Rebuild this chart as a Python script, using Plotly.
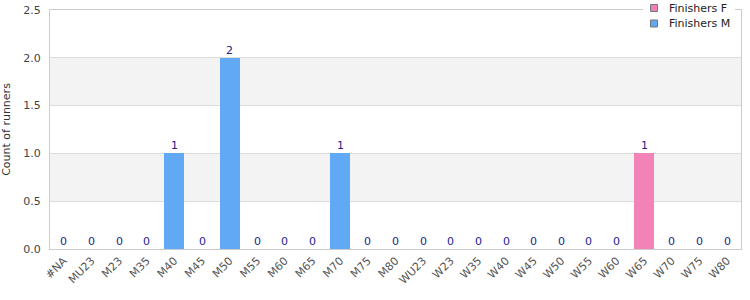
import plotly.graph_objects as go

categories = ["#NA", "MU23", "M23", "M35", "M40", "M45", "M50", "M55", "M60", "M65", "M70", "M75", "M80",
              "WU23", "W23", "W35", "W40", "W45", "W50", "W55", "W60", "W65", "W70", "W75", "W80"]
finishers_m = [0, 0, 0, 0, 1, 0, 2, 0, 0, 0, 1, 0, 0, 0, 0, 0, 0, 0, 0, 0, 0, 0, 0, 0, 0]
finishers_f = [0, 0, 0, 0, 0, 0, 0, 0, 0, 0, 0, 0, 0, 0, 0, 0, 0, 0, 0, 0, 0, 1, 0, 0, 0]
series_names = ["Finishers F", "Finishers M"]
y_ticks = [0.0, 0.5, 1.0, 1.5, 2.0, 2.5]

COL_F = "#f283b9"
COL_M = "#62a9f5"
colors = [COL_F, COL_M]

totals = [m + f for m, f in zip(finishers_m, finishers_f)]

fig = go.Figure()
fig.add_trace(go.Bar(x=categories, y=finishers_f, name=series_names[0], showlegend=False,
                     marker=dict(color=COL_F, line=dict(width=0))))
fig.add_trace(go.Bar(x=categories, y=finishers_m, name=series_names[1], showlegend=False,
                     marker=dict(color=COL_M, line=dict(width=0))))

annotations = [dict(x=c, y=t, text=str(t), showarrow=False, xref="x", yref="y",
                    yanchor="bottom", yshift=-1,
                    font=dict(color="#22228e", size=11, family="DejaVu Sans"))
               for c, t in zip(categories, totals)]

shapes = []
for lo, hi in [(0.5, 1.0), (1.5, 2.0)]:
    shapes.append(dict(type="rect", xref="paper", yref="y", x0=0, x1=1, y0=lo, y1=hi,
                       fillcolor="#f3f3f3", line=dict(width=0), layer="below"))

# legend box (drawn manually, in pixel-derived paper coordinates)
PL, PR, PT, PB = 50, 741, 10, 249
def px_x(px):
    return (px - PL) / (PR - PL)
def px_y(py):
    return (PB - py) / (PB - PT)

shapes.append(dict(type="rect", xref="paper", yref="paper", x0=px_x(643), x1=px_x(735),
                   y0=px_y(32), y1=px_y(0), fillcolor="white", line=dict(width=0), layer="above"))
for i, (name, col) in enumerate(zip(series_names, colors)):
    cy = 8 + 15.5 * i
    shapes.append(dict(type="rect", xref="paper", yref="paper", x0=px_x(650.5), x1=px_x(657.5),
                       y0=px_y(cy + 3.5), y1=px_y(cy - 3.5), fillcolor=col,
                       line=dict(color="#777777", width=1), layer="above"))
    annotations.append(dict(x=px_x(667), y=px_y(cy), xref="paper", yref="paper", text=name,
                            showarrow=False, xanchor="left", yanchor="middle",
                            font=dict(size=11, color="#222222", family="DejaVu Sans")))

fig.update_layout(
    width=750, height=300,
    margin=dict(l=50, r=9, t=10, b=51, autoexpand=False),
    barmode="stack",
    bargap=0.28,
    paper_bgcolor="white", plot_bgcolor="white",
    font=dict(family="DejaVu Sans", size=11, color="#333333"),
    shapes=shapes,
    annotations=annotations,
    showlegend=False,
    xaxis=dict(type="category", tickangle=-45, showline=True, linecolor="#cccccc", mirror=True,
               showgrid=False, tickfont=dict(size=11, color="#555555"), ticks="",
               automargin=False),
    yaxis=dict(range=[0, 2.5], tickvals=y_ticks, ticktext=[f"{v:.1f}" for v in y_ticks],
               showline=True, linecolor="#cccccc", mirror=True, gridcolor="#dddddd",
               zeroline=False, tickfont=dict(size=11, color="#444444"), automargin=False,
               ticklabelstandoff=6,
               title=dict(text="Count of runners", font=dict(size=11, color="#333333"), standoff=12)),
)

fig.write_html("out.html")
